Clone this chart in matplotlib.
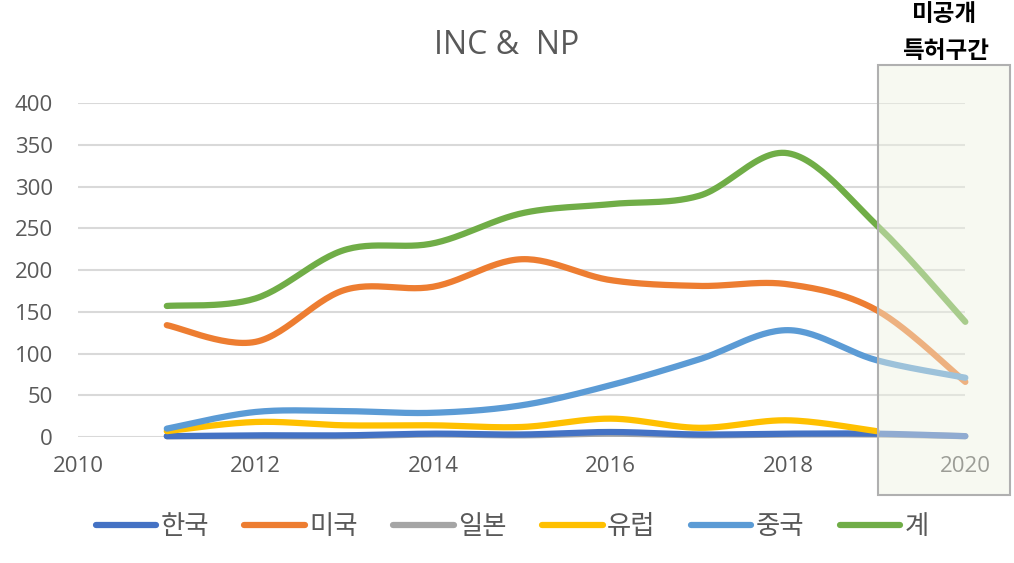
import numpy as np
import matplotlib
matplotlib.use("Agg")
import matplotlib.pyplot as plt
from matplotlib.patches import Rectangle
from matplotlib.lines import Line2D

plt.rcParams['font.family'] = ['Noto Sans CJK KR', 'DejaVu Sans']

years = [2011, 2012, 2013, 2014, 2015, 2016, 2017, 2018, 2019, 2020]
korea = [1, 2, 2, 4, 3, 6, 3, 4, 4, 1]
usa = [134, 114, 176, 180, 213, 188, 181, 183, 152, 66]
japan = [1, 1, 1, 3, 2, 4, 2, 3, 3, 1]
europe = [7, 18, 14, 14, 12, 22, 11, 20, 7]
china = [10, 30, 31, 29, 38, 62, 93, 128, 92, 71]
total = [157, 166, 224, 232, 268, 279, 289, 340, 254, 138]

series = [
    ("일본", japan, "#a5a5a5"),
    ("한국", korea, "#4472c4"),
    ("미국", usa, "#ed7d31"),
    ("유럽", europe, "#ffc000"),
    ("중국", china, "#5b9bd5"),
    ("계", total, "#70ad47"),
]
legend_order = ["한국", "미국", "일본", "유럽", "중국", "계"]


def smooth(x, y, n=30):
    # excel-like bezier smoothing through the points
    x = np.asarray(x, float)
    y = np.asarray(y, float)
    px = np.concatenate([[x[0]], x, [x[-1]]])
    py = np.concatenate([[y[0]], y, [y[-1]]])
    t = np.linspace(0, 1, n)
    xs, ys = [], []
    for i in range(1, len(px) - 2):
        p0 = np.array([px[i], py[i]])
        p3 = np.array([px[i + 1], py[i + 1]])
        c1 = p0 + (p3 - np.array([px[i - 1], py[i - 1]])) / 6
        c2 = p3 - (np.array([px[i + 2], py[i + 2]]) - p0) / 6
        b = ((1 - t) ** 3)[:, None] * p0 + (3 * (1 - t) ** 2 * t)[:, None] * c1 \
            + (3 * (1 - t) * t ** 2)[:, None] * c2 + (t ** 3)[:, None] * p3
        xs.append(b[:, 0])
        ys.append(b[:, 1])
    return np.concatenate(xs), np.concatenate(ys)


fig = plt.figure(figsize=(10.14, 5.63), dpi=100)
ax = fig.add_axes([0.077, 0.2238, 0.875, 0.593])

handles = {}
for name, vals, col in series:
    sx, sy = smooth(years[:len(vals)], vals)
    ax.plot(sx, sy, color=col, lw=4.5, solid_capstyle='round', clip_on=False, zorder=3)
    handles[name] = Line2D([], [], color=col, lw=4.5, solid_capstyle='round')

ax.set_xlim(2010, 2020)
ax.set_ylim(0, 400)
ax.set_yticks(range(0, 401, 50))
ax.set_xticks(range(2010, 2021, 2))
ax.grid(axis='y', color='#d9d9d9', lw=1.5, zorder=0)
ax.set_axisbelow(True)
for s in ax.spines.values():
    s.set_visible(False)
ax.tick_params(length=0, colors='#595959')
ax.tick_params(axis='y', labelsize=16, pad=18)
ax.tick_params(axis='x', labelsize=16, pad=14)
for lab in ax.get_yticklabels() + ax.get_xticklabels():
    lab.set_family(['Open Sans', 'DejaVu Sans'])

fig.text(0.5, 0.92, "INC &  NP", ha='center', va='center', fontsize=23,
         color='#595959', family=['Open Sans', 'DejaVu Sans'])

# unpublished patent zone
box_x0, box_y0, box_w, box_h = 0.866, 0.1208, 0.130, 0.764
fig.patches.append(Rectangle((box_x0, box_y0), box_w, box_h, transform=fig.transFigure,
                             facecolor='#eef2e2', alpha=0.45, edgecolor='none', zorder=10))
fig.patches.append(Rectangle((box_x0, box_y0), box_w, box_h, transform=fig.transFigure,
                             facecolor='none', edgecolor='#b0b0b0', lw=1.5, zorder=11))
fig.text(0.932, 0.976, "미공개", ha='center', va='center', fontsize=17, fontweight='bold')
fig.text(0.932, 0.91, "특허구간", ha='center', va='center', fontsize=17, fontweight='bold')

fig.legend([handles[n] for n in legend_order], legend_order, loc='center',
           bbox_to_anchor=(0.505, 0.064), ncol=6, frameon=False, fontsize=19,
           handlelength=2.3, handletextpad=0.15, columnspacing=1.35, labelcolor='#595959')

fig.savefig("out.png", dpi=100)
